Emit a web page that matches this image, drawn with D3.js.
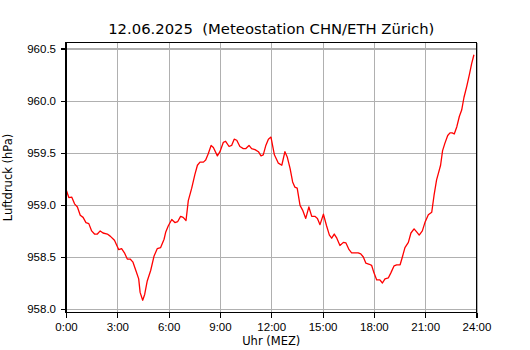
<html>
    <head>
        <style>
            body { margin: 0; background: white; }
            svg { font-family: "DejaVu Sans", sans-serif; }
            .grid line { stroke: #b0b0b0; stroke-width: 1.1px; shape-rendering: crispEdges; }
            .grid path { display: none; }
            .axis path, .axis line { stroke: black; stroke-width: 1.1px; shape-rendering: crispEdges; }
            .axis text { font-size: 11.5px; fill: black; }
        </style>
    </head>
    <body>
        <svg width="530" height="350"></svg>
    </body>
    <script src="https://d3js.org/d3.v7.min.js"></script>
    <script>
        var title = "12.06.2025  (Meteostation CHN/ETH Zürich)";
        var xTickHours = [0, 3, 6, 9, 12, 15, 18, 21, 24];
        var yTicks = [958.0, 958.5, 959.0, 959.5, 960.0, 960.5];

        // minutes since midnight
        var minutes = [0, 10, 20, 30, 40, 50, 60, 70, 80, 90, 100, 110, 120, 130, 145, 155,
            170, 180, 185, 195, 205, 215, 225, 235, 245, 255, 260, 269, 276, 285, 297, 309,
            320, 332, 344, 350, 359, 371, 382, 392, 402, 411, 421, 429, 441, 452, 461, 470,
            482, 490, 499, 509, 517, 531, 540, 552, 560, 572, 581, 590, 599, 610, 622, 631,
            642, 651, 663, 675, 684, 692, 701, 710, 719, 731, 745, 757, 768, 776, 786, 795,
            803, 811, 821, 830, 841, 852, 862, 873, 882, 891, 903, 914, 924, 932, 941, 950,
            961, 973, 982, 993, 1002, 1014, 1025, 1034, 1043, 1052, 1064, 1072, 1080, 1090,
            1101, 1110, 1119, 1131, 1140, 1151, 1160, 1172, 1180, 1189, 1201, 1210, 1221,
            1230, 1239, 1250, 1259, 1271, 1283, 1291, 1300, 1306, 1314, 1321, 1329, 1339,
            1347, 1355, 1362, 1371, 1380, 1388, 1396, 1406, 1415, 1423, 1431];

        // pressure in hPa
        var pressure = [959.15, 959.07, 959.075, 959.01, 958.98, 958.90, 958.88, 958.83, 958.82,
            958.75, 958.72, 958.72, 958.75, 958.73, 958.72, 958.70, 958.66, 958.60, 958.57,
            958.58, 958.54, 958.48, 958.48, 958.45, 958.37, 958.29, 958.16, 958.085, 958.14,
            958.27, 958.37, 958.51, 958.58, 958.59, 958.67, 958.74, 958.80, 958.86, 958.83,
            958.84, 958.89, 958.88, 958.85, 959.04, 959.16, 959.29, 959.38, 959.41, 959.41,
            959.43, 959.49, 959.57, 959.55, 959.47, 959.51, 959.60, 959.61, 959.56, 959.57,
            959.63, 959.62, 959.56, 959.54, 959.54, 959.57, 959.54, 959.53, 959.51, 959.47,
            959.48, 959.57, 959.63, 959.65, 959.48, 959.40, 959.38, 959.51, 959.46, 959.35,
            959.22, 959.17, 959.16, 958.995, 958.95, 958.87, 958.98, 958.89, 958.89, 958.87,
            958.81, 958.91, 958.80, 958.71, 958.68, 958.72, 958.68, 958.61, 958.64, 958.635,
            958.57, 958.54, 958.54, 958.54, 958.53, 958.50, 958.44, 958.43, 958.42, 958.35,
            958.28, 958.28, 958.25, 958.29, 958.30, 958.35, 958.415, 958.425, 958.425, 958.50,
            958.59, 958.64, 958.73, 958.77, 958.74, 958.71, 958.75, 958.83, 958.905, 958.93,
            959.09, 959.24, 959.30, 959.38, 959.52, 959.59, 959.665, 959.69, 959.69, 959.68,
            959.75, 959.85, 959.91, 960.03, 960.14, 960.25, 960.355, 960.44];

        var data = minutes.map(function(m, i) { return { t: m / 60, p: pressure[i] }; });

        var svg = d3.select("svg");
        var margin = { top: 42.5, left: 66, right: 53.5, bottom: 37.5 },
            width = 530, height = 350,
            innerWidth = width - margin.left - margin.right,
            innerHeight = height - margin.top - margin.bottom;

        var pMin = d3.min(pressure), pMax = d3.max(pressure), pad = (pMax - pMin) * 0.05;

        var xScale = d3.scaleLinear().domain([0, 24]).range([0, innerWidth]),
            yScale = d3.scaleLinear().domain([pMin - pad, pMax + pad]).range([innerHeight, 0]);

        var g = svg.append("g")
            .attr("transform", "translate(" + margin.left + "," + margin.top + ")");

        // grid
        g.append("g")
            .attr("class", "grid")
            .attr("transform", "translate(0," + innerHeight + ")")
            .call(d3.axisBottom(xScale).tickValues(xTickHours).tickSize(-innerHeight).tickFormat(""));
        g.append("g")
            .attr("class", "grid")
            .call(d3.axisLeft(yScale).tickValues(yTicks).tickSize(-innerWidth).tickFormat(""));
        g.selectAll(".grid text").remove();

        var line = d3.line()
            .x(function(d) { return xScale(d.t); })
            .y(function(d) { return yScale(d.p); });

        g.append("path")
            .datum(data)
            .attr("fill", "none")
            .attr("stroke", "red")
            .attr("stroke-width", 1.3)
            .attr("stroke-linejoin", "round")
            .attr("d", line);

        // frame
        g.append("rect")
            .attr("width", innerWidth)
            .attr("height", innerHeight)
            .attr("fill", "none")
            .attr("stroke", "black")
            .attr("stroke-width", 1.1)
            .attr("shape-rendering", "crispEdges");

        var xAxis = g.append("g")
            .attr("class", "axis")
            .attr("transform", "translate(0," + innerHeight + ")")
            .call(d3.axisBottom(xScale).tickValues(xTickHours).tickSize(5).tickPadding(5)
                .tickFormat(function(h) { return h + ":00"; }));
        xAxis.select(".domain").remove();

        var yAxis = g.append("g")
            .attr("class", "axis")
            .call(d3.axisLeft(yScale).tickValues(yTicks).tickSize(5).tickPadding(5)
                .tickFormat(d3.format(".1f")));
        yAxis.select(".domain").remove();

        svg.append("text")
            .attr("x", margin.left + innerWidth / 2)
            .attr("y", 34)
            .attr("text-anchor", "middle")
            .style("font-size", "14.8px")
            .style("white-space", "pre")
            .text(title);

        svg.append("text")
            .attr("x", margin.left + innerWidth / 2)
            .attr("y", 345)
            .attr("text-anchor", "middle")
            .style("font-size", "11.5px")
            .text("Uhr (MEZ)");

        svg.append("text")
            .attr("transform", "translate(12," + (margin.top + innerHeight / 2) + ") rotate(-90)")
            .attr("text-anchor", "middle")
            .style("font-size", "11.5px")
            .text("Luftdruck (hPa)");
    </script>
</html>
